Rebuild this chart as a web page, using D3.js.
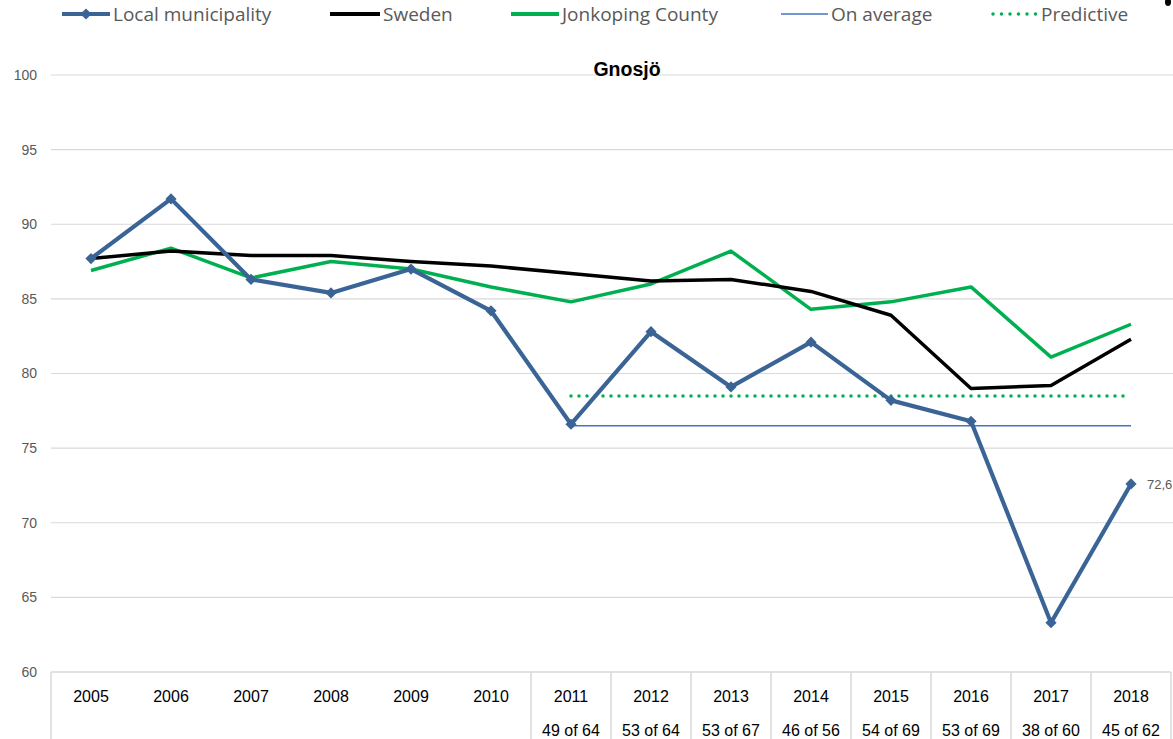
<!DOCTYPE html>
<html>
<head>
<meta charset="utf-8">
<script src="https://cdn.jsdelivr.net/npm/d3@7"></script>
<style>
body { margin: 0; background: #fff; }
svg { display: block; }
</style>
</head>
<body>
<div id="chart"></div>
<script>
//chart data
var years = ["2005","2006","2007","2008","2009","2010","2011","2012","2013","2014","2015","2016","2017","2018"];
var ranks = ["","","","","","","49 of 64","53 of 64","53 of 67","46 of 56","54 of 69","53 of 69","38 of 60","45 of 62"];
var local = [87.7,91.7,86.3,85.4,87.0,84.2,76.6,82.8,79.1,82.1,78.2,76.8,63.3,72.6];
var sweden = [87.7,88.2,87.9,87.9,87.5,87.2,86.7,86.2,86.3,85.5,83.9,79.0,79.2,82.3];
var county = [86.9,88.4,86.4,87.5,87.0,85.8,84.8,86.0,88.2,84.3,84.8,85.8,81.1,83.3];
var avgYears = ["2011","2018"];
var avgValue = 76.5;
var predictive = 78.5;
var yTicks = [60,65,70,75,80,85,90,95,100];
var lastLabel = "72,6";
var title = "Gnosjö";

//sizes and colours
var W = 1173, H = 739;
var plot = {left:51, right:1171, top:75, bottom:672};
var blue = "#3b6496", green = "#00b050", avgBlue = "#4472c4";
var gridColor = "#d9d9d9", textGray = "#595959";
var font = "'Liberation Sans', Arial, sans-serif";

var svg = d3.select("#chart").append("svg")
	.attr("width", W)
	.attr("height", H);

var x = d3.scaleBand().domain(years).range([plot.left, plot.right]);
var y = d3.scaleLinear().domain([60,100]).range([plot.bottom, plot.top]);
var cx = function(yr) { return x(yr) + x.bandwidth()/2; };

//gridlines (60 is the table top line)
svg.append("g").selectAll("line")
	.data(yTicks.filter(function(d){ return d > 60; })).enter()
	.append("line")
	.attr("x1", plot.left).attr("x2", W)
	.attr("y1", function(d){ return y(d); })
	.attr("y2", function(d){ return y(d); })
	.attr("stroke", gridColor).attr("stroke-width", 1.2);

//y axis tick labels
var yAxis = svg.append("g")
	.attr("transform", "translate(" + (plot.left - 14) + ",0)")
	.call(d3.axisLeft(y).tickValues(yTicks).tickSize(0).tickPadding(0));
yAxis.select(".domain").remove();
yAxis.selectAll("text")
	.attr("fill", textGray)
	.style("font-family", font)
	.style("font-size", "14px");

//data table under the plot
var table = svg.append("g");
table.append("line")
	.attr("x1", plot.left).attr("x2", plot.right)
	.attr("y1", y(60)).attr("y2", y(60))
	.attr("stroke", gridColor).attr("stroke-width", 1.5);
var vlines = [plot.left].concat(years.filter(function(d, i){ return ranks[i] !== ""; }).map(function(d){ return x(d); }), [plot.right]);
table.selectAll("line.v")
	.data(vlines).enter()
	.append("line")
	.classed("v", true)
	.attr("x1", function(d){ return d; }).attr("x2", function(d){ return d; })
	.attr("y1", y(60)).attr("y2", H)
	.attr("stroke", gridColor).attr("stroke-width", 1.5);
table.selectAll("text.year")
	.data(years).enter()
	.append("text")
	.classed("year", true)
	.attr("x", function(d){ return cx(d); })
	.attr("y", 702)
	.attr("text-anchor", "middle")
	.style("font-family", font).style("font-size", "16px")
	.attr("fill", "#000")
	.text(function(d){ return d; });
table.selectAll("text.rank")
	.data(years).enter()
	.append("text")
	.classed("rank", true)
	.attr("x", function(d){ return cx(d); })
	.attr("y", 736)
	.attr("text-anchor", "middle")
	.style("font-family", font).style("font-size", "16px")
	.attr("fill", "#000")
	.text(function(d, i){ return ranks[i]; });

//title
svg.append("text")
	.attr("x", 627).attr("y", 76)
	.attr("text-anchor", "middle")
	.style("font-family", font).style("font-size", "19.5px").style("font-weight", "bold")
	.attr("fill", "#000")
	.text(title);

var line = d3.line()
	.x(function(d){ return cx(d.year); })
	.y(function(d){ return y(d.v); });
function series(vals) {
	return years.map(function(yr, i){ return {year: yr, v: vals[i]}; });
}

//on average and predictive levels
svg.append("path")
	.datum(avgYears.map(function(yr){ return {year: yr, v: avgValue}; }))
	.attr("d", line)
	.attr("fill", "none").attr("stroke", avgBlue).attr("stroke-width", 1.5);
svg.append("path")
	.datum(avgYears.map(function(yr){ return {year: yr, v: predictive}; }))
	.attr("d", line)
	.attr("fill", "none").attr("stroke", green).attr("stroke-width", 3.5)
	.attr("stroke-linecap", "round").attr("stroke-dasharray", "0,8");

//main series
svg.append("path").datum(series(county)).attr("d", line)
	.attr("fill", "none").attr("stroke", green).attr("stroke-width", 3.5).attr("stroke-linejoin", "round");
svg.append("path").datum(series(sweden)).attr("d", line)
	.attr("fill", "none").attr("stroke", "#000").attr("stroke-width", 3.5).attr("stroke-linejoin", "round");
svg.append("path").datum(series(local)).attr("d", line)
	.attr("fill", "none").attr("stroke", blue).attr("stroke-width", 4.2).attr("stroke-linejoin", "round");

var diamond = d3.symbol().type(d3.symbolDiamond2).size(80);
svg.append("g").selectAll("path")
	.data(series(local)).enter()
	.append("path")
	.attr("d", diamond)
	.attr("transform", function(d){ return "translate(" + cx(d.year) + "," + y(d.v) + ")"; })
	.attr("fill", blue);

//data label on last point
svg.append("text")
	.attr("x", cx(years[years.length-1]) + 16)
	.attr("y", y(local[local.length-1]) + 5)
	.style("font-family", font).style("font-size", "13px")
	.attr("fill", textGray)
	.text(lastLabel);

//legend
var legendItems = [
	{name:"Local municipality", x0:62, x1:110, color:blue, width:4, marker:true},
	{name:"Sweden", x0:330, x1:380, color:"#000", width:4},
	{name:"Jonkoping County", x0:511, x1:559, color:green, width:4},
	{name:"On average", x0:781, x1:828, color:avgBlue, width:1.5},
	{name:"Predictive", x0:993, x1:1038, color:green, width:3.5, dots:true}
];
var legend = svg.append("g").attr("transform", "translate(0,14)");
var items = legend.selectAll("g").data(legendItems).enter().append("g");
items.append("line")
	.attr("x1", function(d){ return d.x0; }).attr("x2", function(d){ return d.x1; })
	.attr("stroke", function(d){ return d.color; })
	.attr("stroke-width", function(d){ return d.width; })
	.attr("stroke-linecap", function(d){ return d.dots ? "round" : "butt"; })
	.attr("stroke-dasharray", function(d){ return d.dots ? "0,8.5" : null; });
items.filter(function(d){ return d.marker; }).append("path")
	.attr("d", diamond)
	.attr("transform", function(d){ return "translate(" + ((d.x0 + d.x1)/2) + ",0)"; })
	.attr("fill", function(d){ return d.color; });
items.append("text")
	.attr("x", function(d){ return d.x1 + 3; })
	.attr("y", 7)
	.style("font-family", "'Open Sans', sans-serif").style("font-size", "19px")
	.attr("fill", textGray)
	.text(function(d){ return d.name; });

//small dark mark at the top right corner of the reference
svg.append("ellipse")
	.attr("cx", 1168).attr("cy", 2).attr("rx", 3).attr("ry", 4)
	.attr("fill", "#000");
</script>
</body>
</html>
